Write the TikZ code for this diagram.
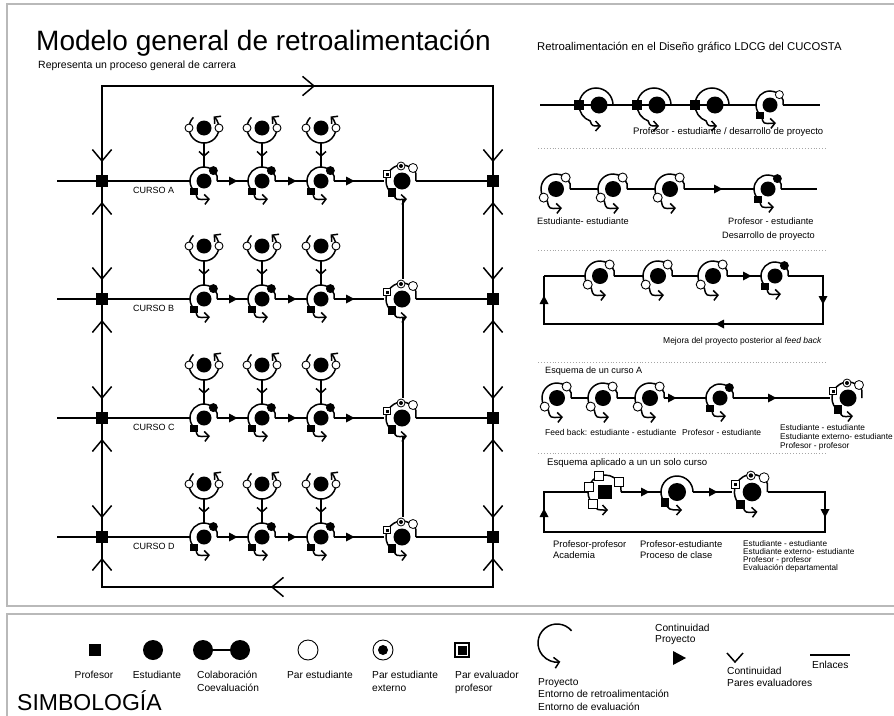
\documentclass[tikz,border=0pt]{standalone}
\usepackage{fontspec}
\setmainfont{Liberation Sans}
\usetikzlibrary{arrows.meta}

\tikzset{
  link/.style={line width=1.5pt},
  sep/.style={gray!70,dotted,line width=0.9pt},
  frame/.style={gray!55,line width=1.6pt},
  barb/.style={-{Straight Barb[length=4.5pt,width=10pt]}},
  txt/.style={anchor=base west,inner sep=0pt,font=\fontsize{#1}{#1}\selectfont},
  ctxt/.style={anchor=base,inner sep=0pt,font=\fontsize{#1}{#1}\selectfont},
  etxt/.style={anchor=base east,inner sep=0pt,font=\fontsize{#1}{#1}\selectfont},
}

% chevron (pares evaluadores): x, y, direction
\newcommand{\chev}[3]{\draw[link] (#1,#2) ++(#3+140:15) -- (#1,#2) -- ++(#3-140:15);}
% filled triangle (continuidad proyecto): x, y, direction
\newcommand{\tri}[3]{\fill[shift={(#1,#2)},rotate=#3] (-4,-4.5) -- (4.5,0) -- (-4,4.5) -- cycle;}
% profesor square: x, y, size
\newcommand{\prof}[3]{\fill (#1-#3/2,#2-#3/2) rectangle (#1+#3/2,#2+#3/2);}

% PROFESOR - ESTUDIANTE
\newcommand{\profest}[4][1]{%
  \begin{scope}[shift={(#2,#3)},yscale=-1,scale=#1]
    \draw[link] (180:14) arc[start angle=180,end angle=20,radius=14] -- (13.2,0);
    \draw[link,barb] (180:14) arc[start angle=180,end angle=235,radius=14] .. controls (-7,-19) .. (6,-18);
    \fill (0,0) circle (7.5);
    \filldraw[fill=#4,line width=0.8pt] (48:14) circle (4);
    \fill (-14,-14) rectangle (-6.5,-6.5);
  \end{scope}}
% PARES (coevaluacion)
\newcommand{\peers}[3][1]{%
  \begin{scope}[shift={(#2,#3)},yscale=-1,scale=#1]
    \draw[link,barb] (135:15) arc[start angle=135,end angle=410,radius=15];
    \fill (0,0) circle (7.5);
    \filldraw[fill=white,line width=0.9pt] (-15,0) circle (4) (15,0) circle (4);
  \end{scope}}
% ESTUDIANTE - ESTUDIANTE
\newcommand{\stust}[3][1]{%
  \begin{scope}[shift={(#2,#3)},yscale=-1,scale=#1]
    \draw[link] (180:15) arc[start angle=180,end angle=20,radius=15] -- (14.1,0);
    \draw[link,barb] (180:15) arc[start angle=180,end angle=235,radius=15] .. controls (-7,-20) .. (6,-19);
    \fill (0,0) circle (8);
    \filldraw[fill=white,line width=0.9pt] (50:15) circle (4.5) (215:15) circle (4.5);
  \end{scope}}
% PROFESOR ON THE LINK
\newcommand{\sqarc}[3][1]{%
  \begin{scope}[shift={(#2,#3)},yscale=-1,scale=#1]
    \draw[link,barb] (0:17) arc[start angle=0,end angle=250,radius=17] .. controls (-4,-21) .. (5,-21);
    \fill (3,0) circle (8.5);
    \fill (-22,-5) rectangle (-12,5);
  \end{scope}}
% PROCESO DE CLASE
\newcommand{\clase}[3][1]{%
  \begin{scope}[shift={(#2,#3)},yscale=-1,scale=#1]
    \draw[link] (16,0) arc[start angle=0,end angle=180,radius=16];
    \draw[link,barb] (180:16) arc[start angle=180,end angle=220,radius=16] .. controls (-8,-18) .. (5,-18);
    \fill (0,0) circle (9);
    \fill (-16.5,-14.5) rectangle (-8,-6);
  \end{scope}}
% ACADEMIA
\newcommand{\academia}[3][1]{%
  \begin{scope}[shift={(#2,#3)},yscale=-1,scale=#1]
    \draw[link] (180:17) arc[start angle=180,end angle=20,radius=17] -- (16,0);
    \draw[link,barb] (180:17) arc[start angle=180,end angle=235,radius=17] .. controls (-8,-18) .. (3,-18);
    \fill (-7,-7) rectangle (7,7);
    \foreach \a in {164,110,36,225}
      \filldraw[fill=white,line width=0.9pt] ([shift={(\a:17)}]-4.5,-4.5) rectangle ([shift={(\a:17)}]4.5,4.5);
  \end{scope}}
% EVALUACION EXTERNA
\newcommand{\extglyph}[3][1]{%
  \begin{scope}[shift={(#2,#3)},yscale=-1,scale=#1]
    \draw[link] (30:16) arc[start angle=30,end angle=150,radius=16];
    \draw[link] (30:16) -- (13.9,0);
    \draw[link,barb] (150:16) arc[start angle=150,end angle=240,radius=16] .. controls (-6,-19) .. (5,-18);
    \fill (0,0) circle (8.5);
    \filldraw[fill=white,line width=0.8pt] (-18.5,3.5) rectangle (-11.5,10.5);
    \fill (-16.5,5.5) rectangle (-13.5,8.5);
    \filldraw[fill=white,line width=0.8pt] (-1,15) circle (4);
    \fill (-1,15) circle (2);
    \filldraw[fill=white,line width=0.8pt] (11,13) circle (4.5);
    \fill (-14.5,-15.5) rectangle (-6,-7);
  \end{scope}}

% ONE COURSE ROW: y, letter
\newcommand{\course}[2]{%
  \draw[link] (57,#1) -- (190,#1);
  \draw[link] (217.2,#1) -- (248,#1);
  \draw[link] (275.2,#1) -- (307,#1);
  \draw[link] (334.2,#1) -- (383.5,#1);
  \draw[link] (416,#1) -- (493,#1);
  \tri{233}{#1}{0} \tri{292}{#1}{0} \tri{350}{#1}{0}
  \chev{102}{#1-20}{90} \chev{102}{#1+22}{-90}
  \chev{493}{#1-20}{90} \chev{493}{#1+22}{-90}
  \prof{102}{#1}{12} \prof{493}{#1}{12}
  \draw[link] (204,#1-38) -- (204,#1-14);
  \draw[link] (262,#1-38) -- (262,#1-14);
  \draw[link] (321,#1-38) -- (321,#1-14);
  \draw[link,barb] (204,#1-31) -- (204,#1-24);
  \draw[link,barb] (262,#1-31) -- (262,#1-24);
  \draw[link,barb] (321,#1-31) -- (321,#1-24);
  \peers{204}{#1-53} \peers{262}{#1-53} \peers{321}{#1-53}
  \profest{204}{#1}{black} \profest{262}{#1}{black} \profest{321}{#1}{black}
  \extglyph{402}{#1}
  \node[txt=9] (curso#2) at (133,#1+12) {CURSO #2};}

\begin{document}
\begin{tikzpicture}[x=1pt,y=-1pt]
\useasboundingbox (0,0) rectangle (894,715);
% FRAMES
\draw[frame] (7,4) rectangle (899,606);
\draw[frame] (7,614) rectangle (899,720);
% TITLES
\node[txt=28] (title) at (36,50) {Modelo general de retroalimentación};
\node[txt=10.5] (subtitle) at (38,68) {Representa un proceso general de carrera};
% MAIN LOOP
\draw[link] (102,86) rectangle (493,587);
\chev{314}{86}{0}
\chev{272}{587}{180}
% COURSES
\course{181}{A}
\course{299}{B}
\course{418}{C}
\course{537}{D}
% EXTERNAL LINKS BETWEEN COURSES
\draw[link] (403,200) -- (403,279);
\draw[link] (403,318) -- (403,398);
\draw[link] (403,437) -- (403,517);

% RIGHT SIDE
\node[txt=11.3] (rtitle) at (537,50) {Retroalimentación en el Diseño gráfico LDCG del CUCOSTA};
% panel 1
\draw[link] (540,105) -- (756,105);
\draw[link] (783.2,105) -- (820,105);
\sqarc{596}{105} \sqarc{654}{105} \sqarc{712}{105}
\profest{770}{105}{white}
\node[txt=9.5] (p1) at (633,134) {Profesor - estudiante / desarrollo de proyecto};
\draw[sep] (538,148) -- (826,148);
% panel 2
\draw[link] (570.1,189) -- (598,189);
\draw[link] (627.1,189) -- (655,189);
\draw[link] (684.1,189) -- (754,189);
\draw[link] (781.2,189) -- (817,189);
\tri{718}{189}{0}
\stust{556}{189} \stust{613}{189} \stust{670}{189}
\profest{768}{189}{black}
\node[txt=9.2] (p2a) at (537,224) {Estudiante- estudiante};
\node[txt=9.2] (p2b) at (728,224) {Profesor - estudiante};
\node[txt=9.2] (p2c) at (722,238) {Desarrollo de proyecto};
\draw[sep] (538,250) -- (826,250);
% panel 3
\draw[link] (544,276) -- (585,276);
\draw[link] (614.1,276) -- (643,276);
\draw[link] (672.1,276) -- (698,276);
\draw[link] (727.1,276) -- (761,276);
\draw[link] (788.2,276) -- (823,276) -- (823,324) -- (544,324) -- (544,276);
\tri{747}{276}{0} \tri{544}{300}{90} \tri{823}{300}{-90} \tri{720}{324}{180}
\stust{600}{276} \stust{658}{276} \stust{713}{276}
\profest{775}{276}{black}
\node[etxt=8.5] (p3) at (822,343) {Mejora del proyecto posterior al \textit{feed back}};
\draw[sep] (538,362) -- (826,362);
% panel 4
\node[txt=9.1] (p4) at (545,373) {Esquema de un curso A};
\draw[link] (571.1,398) -- (588,398);
\draw[link] (617.1,398) -- (635,398);
\draw[link] (664.1,398) -- (706,398);
\draw[link] (733.2,398) -- (829.5,398);
\tri{672}{398}{0} \tri{772}{398}{0}
\stust{557}{398} \stust{603}{398} \stust{650}{398}
\profest{720}{398}{black}
\extglyph{848}{398}
\node[txt=8.5] (p4a) at (545,435) {Feed back: estudiante - estudiante};
\node[txt=8.5] (p4b) at (682,435) {Profesor - estudiante};
\node[txt=8.3] (p4c) at (780,430) {Estudiante - estudiante};
\node[txt=8.3] (p4d) at (780,439) {Estudiante externo- estudiante};
\node[txt=8.3] (p4e) at (780,448) {Profesor - profesor};
\draw[sep] (538,453) -- (826,453);
% panel 5
\node[txt=9.6] (p5) at (547,465) {Esquema aplicado a un un solo curso};
\draw[link] (621,492) -- (661,492);
\draw[link] (693,492) -- (732,492);
\draw[link] (768,492) -- (825,492) -- (825,532) -- (544,532) -- (544,492) -- (588,492);
\tri{645}{492}{0} \tri{713}{492}{0} \tri{544}{513}{90} \tri{825}{513}{-90}
\academia{605}{492}
\clase{677}{492}
\extglyph[1.1]{752}{492}
\node[txt=9.4] (p5a) at (553,547) {Profesor-profesor};
\node[txt=9.4] (p5b) at (553,558) {Academia};
\node[txt=9.4] (p5c) at (640,547) {Profesor-estudiante};
\node[txt=9.4] (p5d) at (640,558) {Proceso de clase};
\node[txt=8.2] (p5e) at (743,546) {Estudiante - estudiante};
\node[txt=8.2] (p5f) at (743,554) {Estudiante externo- estudiante};
\node[txt=8.2] (p5g) at (743,562) {Profesor - profesor};
\node[txt=8.2] (p5h) at (743,570) {Evaluación departamental};

% SIMBOLOGIA
\prof{95}{650}{12}
\node[ctxt=10.2] (l1) at (94,678) {Profesor};
\fill (153,650) circle (10);
\node[ctxt=10.2] (l2) at (157,678) {Estudiante};
\draw[link] (203,650) -- (240,650);
\fill (203,650) circle (10) (240,650) circle (10);
\node[txt=10.2] (l3a) at (197,678) {Colaboración};
\node[txt=10.2] (l3b) at (197,691) {Coevaluación};
\draw[line width=0.9pt] (308,650) circle (10);
\node[ctxt=10.2] (l4) at (320,678) {Par estudiante};
\draw[line width=0.9pt] (383,650) circle (10);
\fill (383,650) circle (5);
\node[txt=10.2] (l5a) at (372,678) {Par estudiante};
\node[txt=10.2] (l5b) at (372,691) {externo};
\draw[line width=1.2pt] (455,643) rectangle (469,657);
\fill (457.5,645.5) rectangle (466.5,654.5);
\node[txt=10.2] (l6a) at (455,678) {Par evaluador};
\node[txt=10.2] (l6b) at (455,691) {profesor};
\begin{scope}[shift={(557,643)},yscale=-1]
  \draw[link,-{Straight Barb[length=5pt,width=11pt]}] (40:19) arc[start angle=40,end angle=280,radius=19];
\end{scope}
\node[txt=10.2] (l7a) at (538,685) {Proyecto};
\node[txt=10.2] (l7b) at (538,697) {Entorno de retroalimentación};
\node[txt=10.2] (l7c) at (538,710) {Entorno de evaluación};
\fill (673,651) -- (686,658) -- (673,665) -- cycle;
\node[txt=10.2] (l8a) at (655,631) {Continuidad};
\node[txt=10.2] (l8b) at (655,642) {Proyecto};
\draw[link] (727,653) -- (735,662) -- (743,653);
\node[txt=10.2] (l9a) at (727,674) {Continuidad};
\node[txt=10.2] (l9b) at (727,686) {Pares evaluadores};
\draw[link] (810,655) -- (850,655);
\node[txt=10.2] (l10) at (812,668) {Enlaces};
\node[txt=23] (simb) at (17,710) {SIMBOLOGÍA};
\end{tikzpicture}
\end{document}
